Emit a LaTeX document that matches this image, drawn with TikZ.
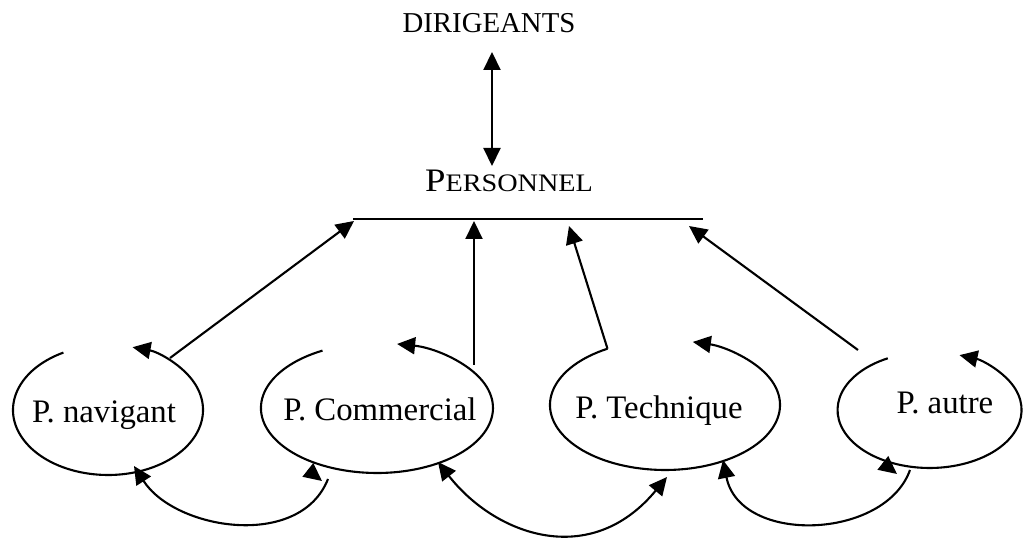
\documentclass[tikz,border=0pt]{standalone}
\usepackage{fontspec}
\setmainfont{Liberation Serif}
\usetikzlibrary{arrows.meta}
\begin{document}
\begin{tikzpicture}[x=0.5pt,y=-0.5pt,
  line width=1.05pt,
  >={Triangle[length=9pt,width=8.5pt]},
  lab/.style={font=\fontsize{16.4}{19}\selectfont, inner sep=0pt, anchor=base},
  looparc/.style={->},
  conn/.style={->}]
\useasboundingbox (0,0) rectangle (1024,539);

% labels
\node[lab, font=\fontsize{14.4}{17}\selectfont] (dir) at (489,33) {DIRIGEANTS};
\node[lab] (pers) at (509,192) {\scalebox{1.12}[1]{P{\fontsize{12.6}{15}\selectfont ERSONNEL}}};
\node[lab] (nav) at (104,423) {P. navigant};
\node[lab] (com) at (380,421) {P. Commercial};
\node[lab] (tec) at (659,419) {P. Technique};
\node[lab] (aut) at (945,414) {P. autre};

% dirigeants <-> personnel
\coordinate (dtip) at (492,52);
\coordinate (ptip) at (492,166);
\draw[<->] (dtip) -- (ptip);

% horizontal bar
\coordinate (hl) at (353,219);
\coordinate (hr) at (703,219);
\draw (hl) -- (hr);

% loops
\coordinate (navs) at (63.4,352.6);
\coordinate (coms) at (322.5,350.6);
\coordinate (tecs) at (607.5,348.7);
\coordinate (auts) at (887.8,358.3);
\draw[looparc] (navs) arc[start angle=118, end angle=435, x radius=47.5pt, y radius=32.5pt];
\draw[looparc] (coms) arc[start angle=118, end angle=440, x radius=58pt, y radius=32.5pt];
\draw[looparc] (tecs) arc[start angle=120, end angle=436, x radius=57.5pt, y radius=32.5pt];
\draw[looparc] (auts) arc[start angle=117, end angle=431, x radius=46pt, y radius=29pt];

% arrows up to the bar
\coordinate (b1) at (354,221);
\coordinate (b2) at (474,221);
\coordinate (b3) at (569,226);
\coordinate (b4) at (689,226);
\coordinate (navt) at (170,358);
\coordinate (comt) at (474,365);
\coordinate (autt) at (858,350);
\draw[conn] (navt) -- (b1);
\draw[conn] (comt) -- (b2);
\draw[conn] (tecs) -- (b3);
\draw[conn] (autt) -- (b4);

% lower connectors
\coordinate (c1s) at (328,479);
\coordinate (c1e) at (134,466);
\draw[conn] (c1s) .. controls (300,550) and (175,530) .. (c1e);
\coordinate (c1a) at (308,470);
\coordinate (c1b) at (322,481);
\draw[conn] (c1a) -- (c1b);

\coordinate (c2s) at (438,462);
\coordinate (c2e) at (667,477);
\draw[<->] (c2s) .. controls (495,535) and (590,570) .. (c2e);

\coordinate (c3s) at (910,470);
\coordinate (c3e) at (723,460);
\draw[conn] (c3s) .. controls (885,540) and (740,545) .. (c3e);
\coordinate (c3a) at (883,463);
\coordinate (c3b) at (897,474);
\draw[conn] (c3a) -- (c3b);
\end{tikzpicture}
\end{document}
